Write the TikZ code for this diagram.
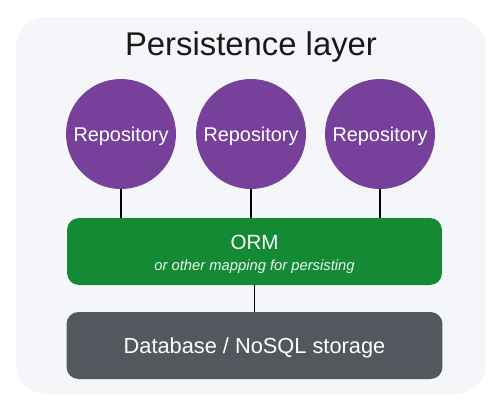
\documentclass[tikz,border=0pt]{standalone}
\usepackage{fontspec}
\setmainfont{Liberation Sans}
\usetikzlibrary{positioning}

\definecolor{panelgray}{HTML}{F5F6F9}
\definecolor{repopurple}{HTML}{76409B}
\definecolor{ormgreen}{HTML}{148A35}
\definecolor{dbgray}{HTML}{53575E}

\begin{document}
\begin{tikzpicture}[
  x=0.02cm, y=-0.02cm,
  panel/.style={fill=panelgray, rounded corners=0.6cm, minimum width=9.4cm, minimum height=7.54cm, inner sep=0pt},
  title/.style={anchor=base, font=\fontsize{18.7}{22}\selectfont, text=black!90},
  repo/.style={circle, fill=repopurple, minimum size=2.2cm, inner sep=0pt, text=white,
               text depth=0pt, font=\fontsize{11.3}{13}\selectfont},
  ormbox/.style={fill=ormgreen, rounded corners=0.24cm, minimum width=7.5cm, minimum height=1.34cm, inner sep=0pt},
  dbbox/.style={fill=dbgray, rounded corners=0.24cm, minimum width=7.52cm, minimum height=1.34cm, inner sep=0pt,
                text=white, text depth=0pt, font=\fontsize{12.4}{14}\selectfont},
  boxtext/.style={anchor=base, text=white, inner sep=0pt, font=\fontsize{11.7}{14}\selectfont},
  subtext/.style={anchor=base, text=white!92!ormgreen, inner sep=0pt, font=\fontsize{8.4}{10}\selectfont\itshape},
  link/.style={line width=0.75pt, draw=black},
]
\useasboundingbox (0,0) rectangle (500,410);

% Nodes
\node[panel] (layer) at (251,205.5) {};
\node[title] (ttl) at (251,55) {Persistence layer};

\node[repo] (r1) at (121,134) {Repository};
\node[repo] (r2) at (251,134) {Repository};
\node[repo] (r3) at (380,134) {Repository};

\node[ormbox] (orm) at (254.5,251.5) {};
\node[boxtext] (ormname) at (254.5,249) {ORM};
\node[subtext] (ormnote) at (254.5,270) {or other mapping for persisting};

\node[dbbox] (db) at (254.5,345.5) {Database / NoSQL storage};

% Links
\draw[link] (r1) -- (r1 |- orm.north);
\draw[link] (r2) -- (r2 |- orm.north);
\draw[link] (r3) -- (r3 |- orm.north);
\draw[link] (orm.south) -- (db.north);

\end{tikzpicture}
\end{document}
